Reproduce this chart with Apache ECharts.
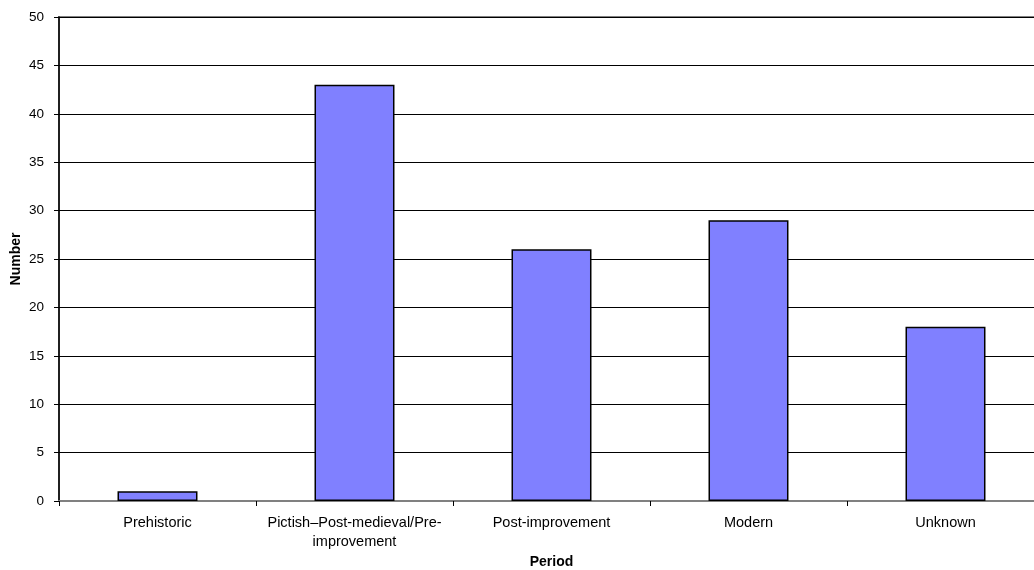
<!DOCTYPE html>
<html><head><meta charset="utf-8">
<script src="https://cdn.jsdelivr.net/npm/echarts@6/dist/echarts.min.js"></script>
<style>html,body{margin:0;padding:0;background:#fff;overflow:hidden}#c{width:1034px;height:570px}</style>
</head><body><div id="c"></div>
<script>
const categories = ["Prehistoric", "Pictish\u2013Post-medieval/Pre-\nimprovement", "Post-improvement", "Modern", "Unknown"];
const counts = [1, 43, 26, 29, 18];
const yTicks = [0, 5, 10, 15, 20, 25, 30, 35, 40, 45, 50];

const chart = echarts.init(document.getElementById('c'), null, {renderer: 'canvas'});
chart.setOption({
  animation: false,
  backgroundColor: '#fff',
  textStyle: {fontFamily: 'Liberation Sans, Arial, sans-serif'},
  grid: {left: 59, right: -10, top: 17, bottom: 69, containLabel: false, outerBoundsMode: 'none',
         show: true, borderColor: '#808080', borderWidth: 2, backgroundColor: 'transparent'},
  xAxis: {
    type: 'category',
    data: categories,
    name: 'Period',
    nameLocation: 'middle',
    nameGap: 54,
    nameMoveOverlap: false,
    nameTextStyle: {fontWeight: 'bold', fontSize: 14, color: '#000'},
    axisLine: {lineStyle: {color: '#808080', width: 2}},
    axisTick: {show: true, alignWithLabel: false, length: 5, lineStyle: {color: '#000'}},
    axisLabel: {color: '#000', fontSize: 14.5, margin: 12, lineHeight: 19, interval: 0}
  },
  yAxis: {
    type: 'value',
    min: yTicks[0], max: yTicks[yTicks.length - 1], interval: 5,
    name: 'Number',
    nameLocation: 'middle',
    nameGap: 36,
    nameMoveOverlap: false,
    nameTextStyle: {fontWeight: 'bold', fontSize: 14, color: '#000'},
    axisLine: {show: true, lineStyle: {color: '#000', width: 1.5}},
    axisTick: {show: true, length: 5, lineStyle: {color: '#000'}},
    axisLabel: {color: '#000', fontSize: 13.5, margin: 15},
    splitLine: {lineStyle: {color: '#000', width: 1}}
  },
  series: [{
    type: 'bar',
    data: counts,
    barWidth: '40.6%',
    itemStyle: {color: '#8080FF', borderColor: '#000', borderWidth: 1.5}
  }]
});
</script></body></html>
